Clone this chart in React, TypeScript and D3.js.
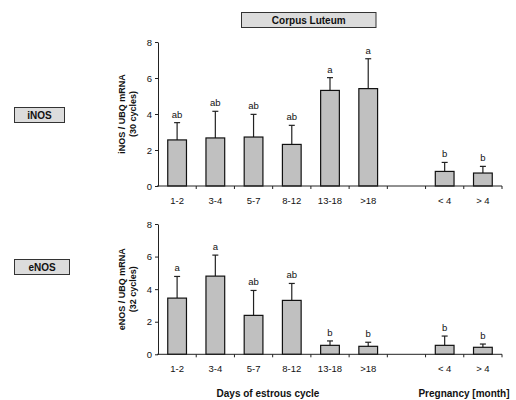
import { useEffect, useRef } from "react";
import * as d3 from "d3";

// categories along the x axis ("" is the empty gap between cycle and pregnancy)
const categories = ["1-2", "3-4", "5-7", "8-12", "13-18", ">18", "", "< 4", "> 4"];

// iNOS / UBQ mRNA (30 cycles)
const inosMean = [2.56, 2.67, 2.72, 2.31, 5.31, 5.41, null, 0.81, 0.72];
const inosUpper = [3.52, 4.15, 3.98, 3.37, 6.02, 7.07, null, 1.31, 1.09];
const inosLetters = ["ab", "ab", "ab", "ab", "a", "a", "", "b", "b"];

// eNOS / UBQ mRNA (32 cycles)
const enosMean = [3.45, 4.8, 2.39, 3.31, 0.55, 0.49, null, 0.55, 0.43];
const enosUpper = [4.78, 6.09, 3.92, 4.35, 0.82, 0.74, null, 1.12, 0.63];
const enosLetters = ["a", "a", "ab", "ab", "b", "b", "", "b", "b"];

const yTicks = [0, 2, 4, 6, 8];

const FONT = "'Liberation Sans', Arial, sans-serif";

function Panel({ mean, upper, letters, top, bottom, title1, title2 }) {
  const axisRef = useRef(null);

  const x = d3.scaleBand().domain(categories).range([158, 502]).padding(0);
  const y = d3.scaleLinear().domain([0, 8]).range([bottom, top]);
  const bw = x.bandwidth();

  useEffect(() => {
    const g = d3.select(axisRef.current);
    g.selectAll("*").remove();
    const yAxis = d3.axisLeft(y).tickValues(yTicks).tickSize(3).tickSizeOuter(0).tickPadding(3);
    const ya = g.append("g").attr("transform", "translate(158,0)").call(yAxis);
    ya.selectAll("path, line").attr("stroke", "#222");
    ya.selectAll("text").attr("font-family", FONT).attr("font-size", 9.5).attr("fill", "#111");
  }, [top, bottom]);

  return (
    <g>
      {categories.map((c, i) =>
        mean[i] == null ? null : (
          <g key={"b" + i}>
            <line
              x1={x(c) + bw / 2}
              x2={x(c) + bw / 2}
              y1={y(mean[i])}
              y2={y(upper[i])}
              stroke="#222"
              strokeWidth={1.2}
            />
            <line
              x1={x(c) + bw / 2 - 3}
              x2={x(c) + bw / 2 + 3}
              y1={y(upper[i])}
              y2={y(upper[i])}
              stroke="#222"
              strokeWidth={1.2}
            />
            <rect
              x={x(c) + bw * 0.255}
              y={y(mean[i])}
              width={bw * 0.49}
              height={y(0) - y(mean[i])}
              fill="#c0c0c0"
              stroke="#111"
              strokeWidth={1.2}
            />
            <text
              x={x(c) + bw / 2}
              y={y(upper[i]) - 5}
              textAnchor="middle"
              fontSize={9.5}
              fontFamily={FONT}
              fill="#111"
            >
              {letters[i]}
            </text>
          </g>
        )
      )}
      {/* x axis */}
      <line x1={157} x2={502} y1={y(0)} y2={y(0)} stroke="#222" strokeWidth={1} />
      {categories.map((c, i) =>
        i === 0 ? null : (
          <line key={"t" + i} x1={x(c)} x2={x(c)} y1={y(0)} y2={y(0) + 3} stroke="#222" />
        )
      )}
      <line x1={502} x2={502} y1={y(0)} y2={y(0) + 3} stroke="#222" />
      {categories.map((c, i) => (
        <text
          key={"l" + i}
          x={x(c) + bw / 2}
          y={y(0) + 18}
          textAnchor="middle"
          fontSize={9.5}
          fontFamily={FONT}
          fill="#111"
        >
          {c}
        </text>
      ))}
      <g ref={axisRef} />
      <text
        transform={`translate(125,${(top + bottom) / 2}) rotate(-90)`}
        textAnchor="middle"
        fontSize={9}
        fontWeight="bold"
        fontFamily={FONT}
        fill="#111"
      >
        {title1}
      </text>
      <text
        transform={`translate(136,${(top + bottom) / 2}) rotate(-90)`}
        textAnchor="middle"
        fontSize={9}
        fontWeight="bold"
        fontFamily={FONT}
        fill="#111"
      >
        {title2}
      </text>
    </g>
  );
}

function LabelBox({ x, y, w, h, text }) {
  return (
    <g>
      <rect x={x} y={y} width={w} height={h} fill="#dcdcdc" stroke="#333" strokeWidth={1} />
      <text
        x={x + w / 2}
        y={y + h / 2 + 3.5}
        textAnchor="middle"
        fontSize={10}
        fontWeight="bold"
        fontFamily={FONT}
        fill="#111"
      >
        {text}
      </text>
    </g>
  );
}

export default function App() {
  return (
    <svg
      width={516}
      height={400}
      style={{ position: "absolute", left: 0, top: 0, background: "#fff" }}
    >
      <LabelBox x={241.5} y={12.5} w={134.5} h={15} text="Corpus Luteum" />
      <LabelBox x={14.5} y={107.5} w={50} h={15} text="iNOS" />
      <LabelBox x={14.5} y={259.5} w={55} h={15} text="eNOS" />
      <Panel
        mean={inosMean}
        upper={inosUpper}
        letters={inosLetters}
        top={42}
        bottom={186}
        title1="iNOS / UBQ mRNA"
        title2="(30 cycles)"
      />
      <Panel
        mean={enosMean}
        upper={enosUpper}
        letters={enosLetters}
        top={224}
        bottom={354.3}
        title1="eNOS / UBQ mRNA"
        title2="(32 cycles)"
      />
      <text x={268} y={397} textAnchor="middle" fontSize={10} fontWeight="bold" fontFamily={FONT} fill="#111">
        Days of estrous cycle
      </text>
      <text x={464} y={397} textAnchor="middle" fontSize={10} fontWeight="bold" fontFamily={FONT} fill="#111">
        Pregnancy [month]
      </text>
    </svg>
  );
}
